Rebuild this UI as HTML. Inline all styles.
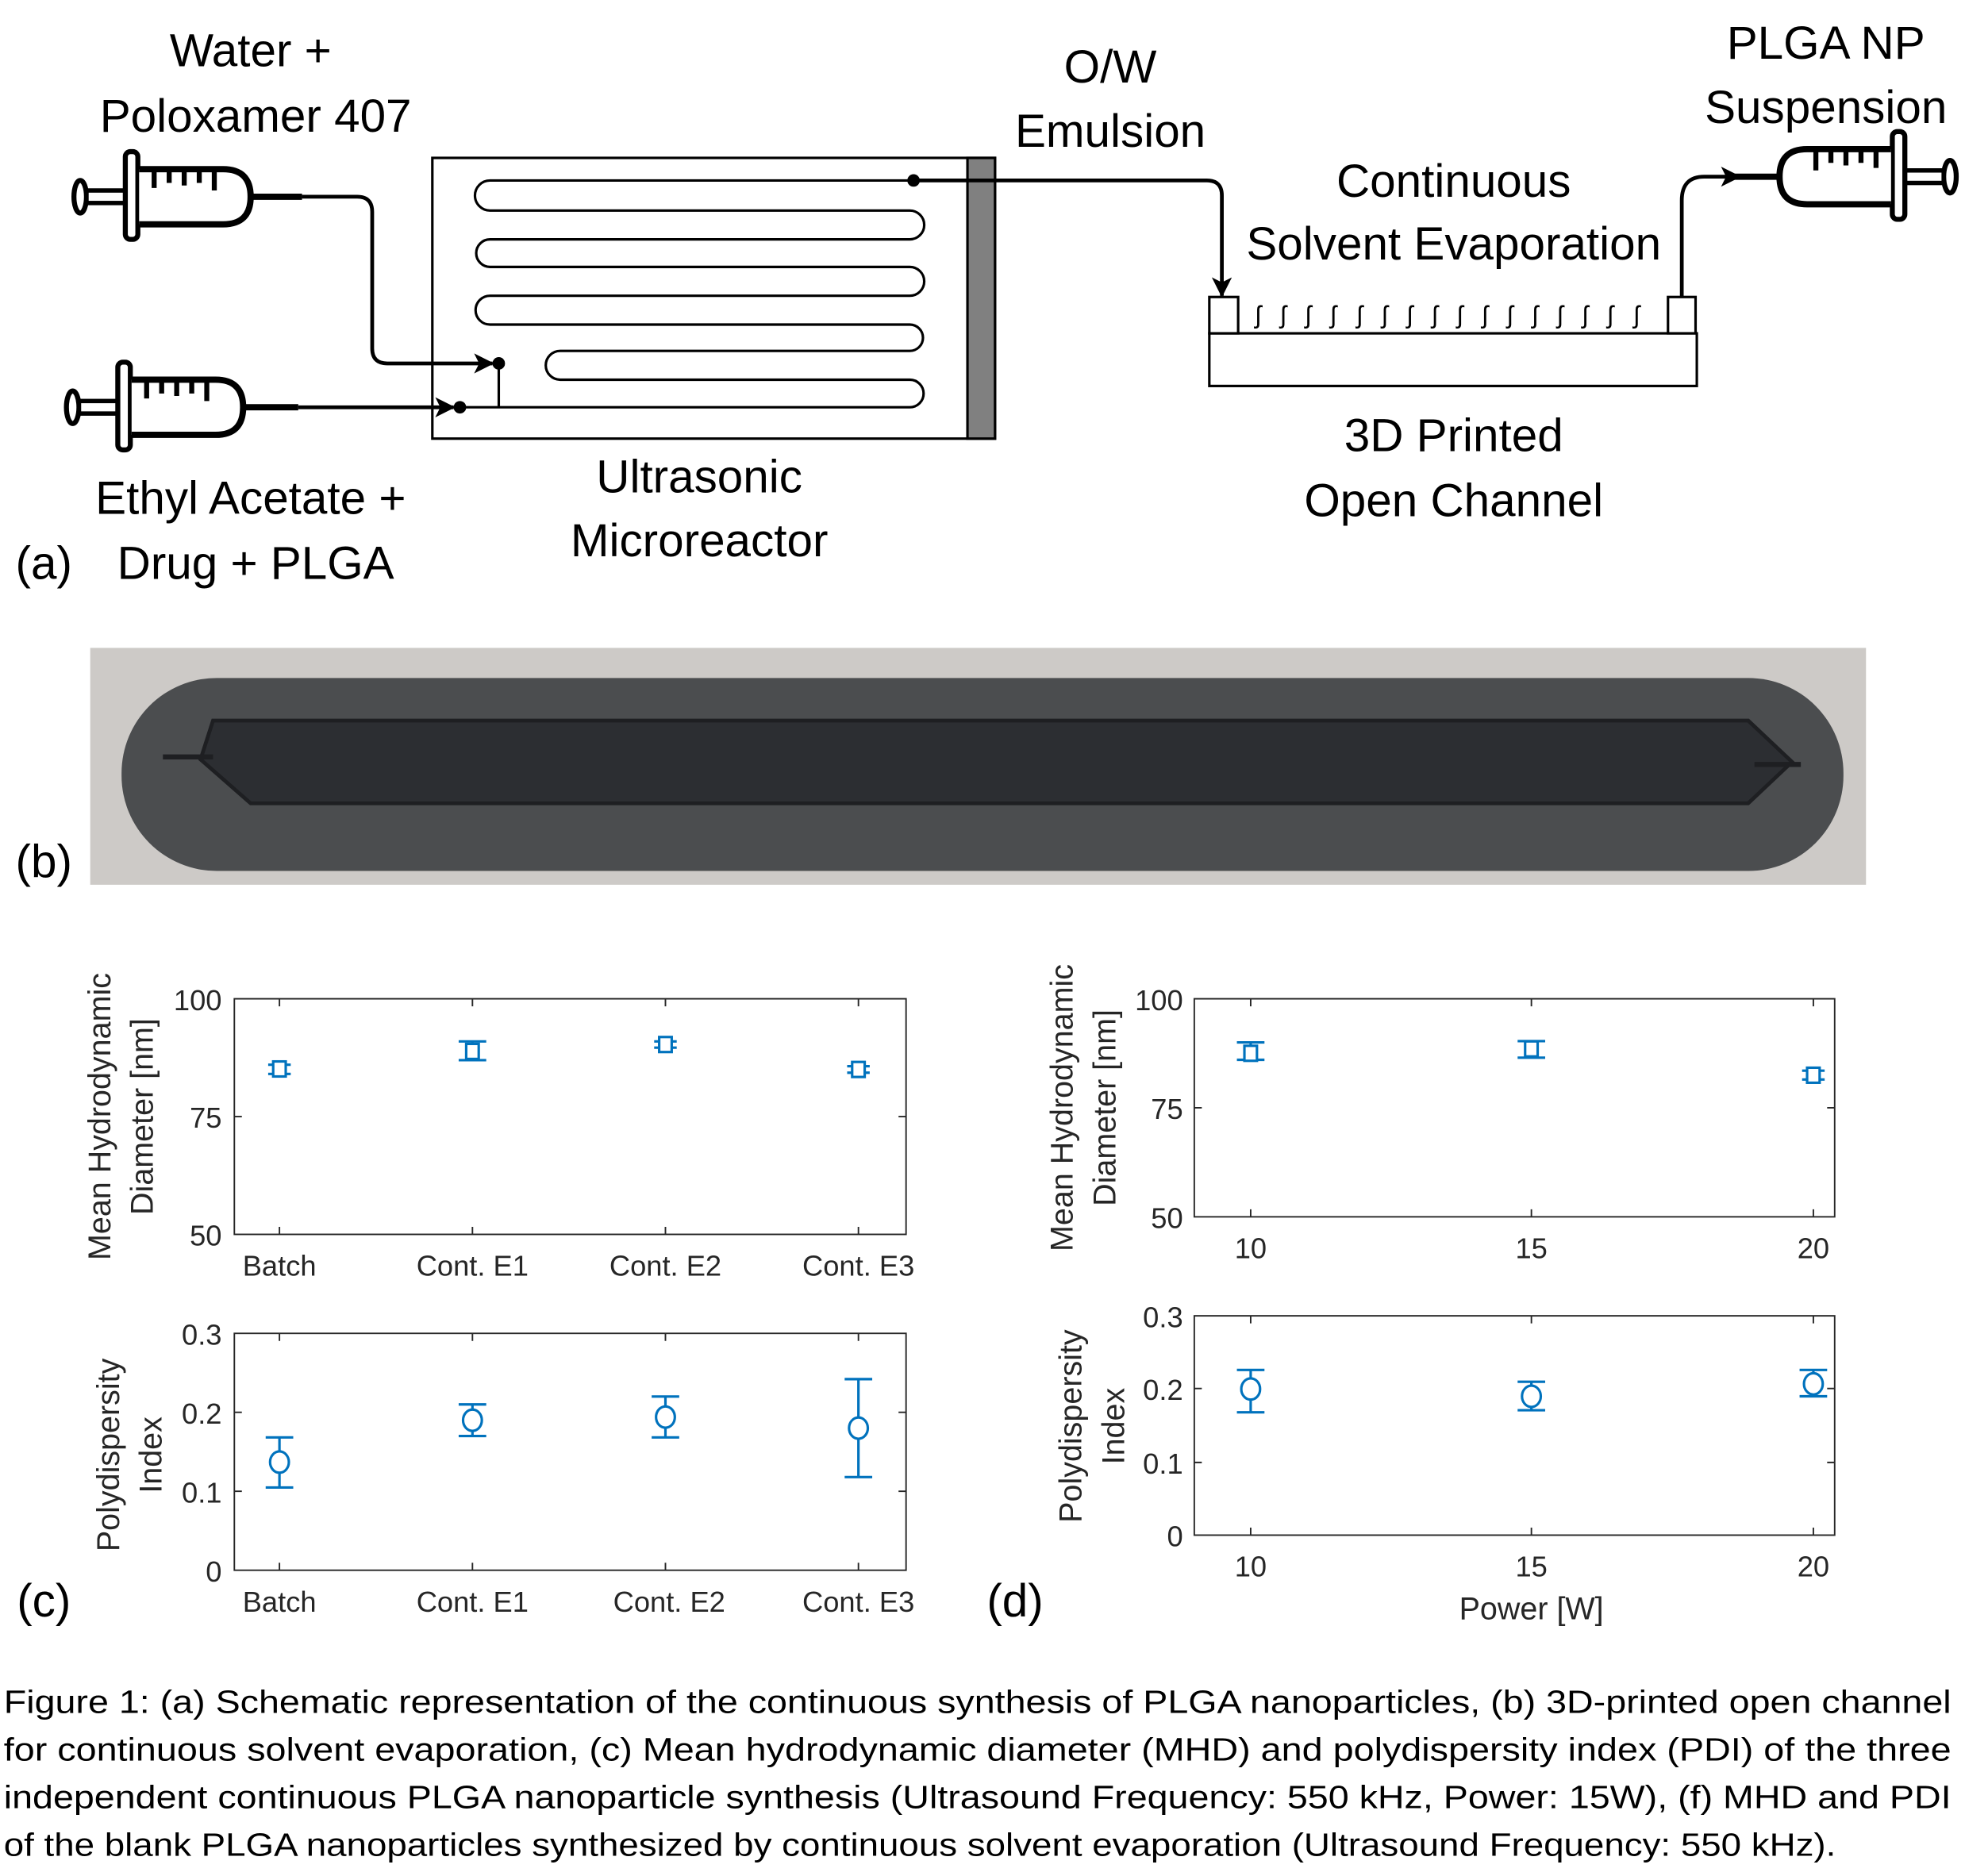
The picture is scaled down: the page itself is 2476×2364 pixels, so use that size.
<!DOCTYPE html>
<html><head><meta charset="utf-8"><style>
html,body{margin:0;padding:0;background:#fff}
svg{display:block}
.s{font-family:"Liberation Sans",sans-serif}
</style></head><body>
<svg width="2476" height="2364" viewBox="0 0 1568 1497" preserveAspectRatio="none" xmlns="http://www.w3.org/2000/svg">
<defs>
<marker id="ah" viewBox="0 0 12 12" refX="11" refY="6" markerWidth="16" markerHeight="16" markerUnits="userSpaceOnUse" orient="auto"><path d="M0,0 L12,6 L0,12 L3,6 Z" fill="#000"/></marker>
<g id="syr">
<ellipse cx="64" cy="0" rx="5" ry="13" fill="#fff" stroke="#000" stroke-width="4"/>
<rect x="69" y="-5" width="31" height="10" fill="#fff" stroke="#000" stroke-width="3.5"/>
<rect x="100" y="-36" width="10" height="70" rx="4" fill="#fff" stroke="#000" stroke-width="4"/>
<path d="M111,-22 H178 Q200,-22 200,0 Q200,22 178,22 H111" fill="#fff" stroke="#000" stroke-width="5"/>
<path d="M123,-20 V-7 M135,-20 V-11 M147,-20 V-9 M159,-20 V-11 M171,-20 V-5" stroke="#000" stroke-width="4"/>
</g>
</defs>
<g font-family="Liberation Sans, sans-serif" font-size="37" fill="#000" text-anchor="middle">
<text x="200" y="53">Water +</text>
<text x="204" y="105">Poloxamer 407</text>
<text x="200" y="410">Ethyl Acetate +</text>
<text x="204" y="462">Drug + PLGA</text>
<text x="35" y="462">(a)</text>
<text x="558" y="393">Ultrasonic</text>
<text x="558" y="444">Microreactor</text>
<text x="886" y="66">O/W</text>
<text x="886" y="117">Emulsion</text>
<text x="1160" y="157">Continuous</text>
<text x="1160" y="207">Solvent Evaporation</text>
<text x="1160" y="360">3D Printed</text>
<text x="1160" y="412">Open Channel</text>
<text x="1457" y="47">PLGA NP</text>
<text x="1457" y="98">Suspension</text>
<text x="35" y="700">(b)</text>
<text x="35" y="1290">(c)</text>
<text x="810" y="1290">(d)</text>
</g>
<rect x="345" y="126" width="449" height="224" fill="#fff" stroke="#000" stroke-width="2"/>
<rect x="772" y="126" width="22" height="224" fill="#808080" stroke="#000" stroke-width="2"/>
<path d="M729,144 H391 A12,12 0 0 0 391,168 H726 A11.5,11.5 0 0 1 726,191 H391 A11,11 0 0 0 391,213 H726 A11.5,11.5 0 0 1 726,236 H391 A11.5,11.5 0 0 0 391,259 H726 A10.5,10.5 0 0 1 726,280 H447 A11.5,11.5 0 0 0 447,303 H726 A11,11 0 0 1 726,325 H367" fill="none" stroke="#000" stroke-width="2"/>
<line x1="398" y1="290" x2="398" y2="325" stroke="#000" stroke-width="2"/>
<use href="#syr" transform="translate(0,157)"/>
<use href="#syr" transform="translate(-6,325)"/>
<use href="#syr" transform="translate(1620,141) scale(-1,1)"/>
<path d="M200,157 H241" stroke="#000" stroke-width="5"/>
<path d="M194,325 H238" stroke="#000" stroke-width="5"/>
<path d="M241,157 H285 Q297,157 297,169 V278 Q297,290 309,290 H393" fill="none" stroke="#000" stroke-width="3" marker-end="url(#ah)"/>
<path d="M238,325 H362" fill="none" stroke="#000" stroke-width="3" marker-end="url(#ah)"/>
<circle cx="398" cy="290" r="5"/>
<circle cx="367" cy="325" r="5"/>
<circle cx="729" cy="144" r="5"/>
<path d="M729,144 H963 Q975,144 975,156 V236" fill="none" stroke="#000" stroke-width="3" marker-end="url(#ah)"/>
<path d="M1342,237 V160 Q1342,141 1360,141 H1388" fill="none" stroke="#000" stroke-width="3" marker-end="url(#ah)"/>
<path d="M1380,141 H1420" stroke="#000" stroke-width="5"/>
<rect x="965" y="266" width="389" height="42" fill="#fff" stroke="#000" stroke-width="2"/>
<rect x="965" y="237" width="23" height="29" fill="#fff" stroke="#000" stroke-width="2"/>
<rect x="1331" y="237" width="22" height="29" fill="#fff" stroke="#000" stroke-width="2"/>
<g font-family="Liberation Sans, sans-serif" font-size="20" text-anchor="middle">
<text x="1004" y="258">ʃ</text><text x="1024" y="258">ʃ</text><text x="1044" y="258">ʃ</text><text x="1064" y="258">ʃ</text><text x="1085" y="258">ʃ</text><text x="1105" y="258">ʃ</text><text x="1125" y="258">ʃ</text><text x="1145" y="258">ʃ</text><text x="1165" y="258">ʃ</text><text x="1185" y="258">ʃ</text><text x="1205" y="258">ʃ</text><text x="1225" y="258">ʃ</text><text x="1245" y="258">ʃ</text><text x="1265" y="258">ʃ</text><text x="1285" y="258">ʃ</text><text x="1306" y="258">ʃ</text>
</g>
<rect x="72" y="517" width="1417" height="189" fill="#cdcac7"/>
<rect x="97" y="541" width="1374" height="154" rx="76" fill="#4b4d4f"/>
<path d="M170,575 H1395 L1430,608 L1395,641 H200 L160,606 Z" fill="#2c2e32" stroke="#1e1f22" stroke-width="3"/>
<path d="M130,604 H170 M1400,610 H1437" stroke="#1e1f22" stroke-width="4"/>
<g class="s" font-size="23" fill="#262626" stroke="none">
<rect x="187" y="797" width="536" height="188" fill="none" stroke="#262626" stroke-width="1.2"/>
<path d="M223,985v-6M377,985v-6M531,985v-6M685,985v-6M223,797v6M377,797v6M531,797v6M685,797v6M187,891h6M723,891h-6" stroke="#262626" stroke-width="1.2"/>
<text x="177" y="806" text-anchor="end">100</text><text x="177" y="900" text-anchor="end">75</text><text x="177" y="994" text-anchor="end">50</text>
<g text-anchor="middle"><text x="223" y="1018">Batch</text><text x="377" y="1018">Cont. E1</text><text x="531" y="1018">Cont. E2</text><text x="685" y="1018">Cont. E3</text></g>
<g font-size="25">
<text transform="translate(88,891) rotate(-90)" text-anchor="middle">Mean Hydrodynamic</text>
<text transform="translate(122,891) rotate(-90)" text-anchor="middle">Diameter [nm]</text>
</g>
<rect x="953" y="797" width="511" height="174" fill="none" stroke="#262626" stroke-width="1.2"/>
<path d="M998,971v-6M1222,971v-6M1447,971v-6M998,797v6M1222,797v6M1447,797v6M953,884h6M1464,884h-6" stroke="#262626" stroke-width="1.2"/>
<text x="944" y="806" text-anchor="end">100</text><text x="944" y="893" text-anchor="end">75</text><text x="944" y="980" text-anchor="end">50</text>
<g text-anchor="middle"><text x="998" y="1004">10</text><text x="1222" y="1004">15</text><text x="1447" y="1004">20</text></g>
<g font-size="25">
<text transform="translate(856,884) rotate(-90)" text-anchor="middle">Mean Hydrodynamic</text>
<text transform="translate(890,884) rotate(-90)" text-anchor="middle">Diameter [nm]</text>
</g>
<rect x="187" y="1064" width="536" height="189" fill="none" stroke="#262626" stroke-width="1.2"/>
<path d="M223,1253v-6M377,1253v-6M531,1253v-6M685,1253v-6M223,1064v6M377,1064v6M531,1064v6M685,1064v6M187,1127h6M723,1127h-6M187,1190h6M723,1190h-6" stroke="#262626" stroke-width="1.2"/>
<text x="177" y="1073" text-anchor="end">0.3</text><text x="177" y="1136" text-anchor="end">0.2</text><text x="177" y="1199" text-anchor="end">0.1</text><text x="177" y="1262" text-anchor="end">0</text>
<g text-anchor="middle"><text x="223" y="1286">Batch</text><text x="377" y="1286">Cont. E1</text><text x="534" y="1286">Cont. E2</text><text x="685" y="1286">Cont. E3</text></g>
<g font-size="25">
<text transform="translate(95,1161) rotate(-90)" text-anchor="middle">Polydispersity</text>
<text transform="translate(129,1161) rotate(-90)" text-anchor="middle">Index</text>
</g>
<rect x="953" y="1050" width="511" height="175" fill="none" stroke="#262626" stroke-width="1.2"/>
<path d="M998,1225v-6M1222,1225v-6M1447,1225v-6M998,1050v6M1222,1050v6M1447,1050v6M953,1108h6M1464,1108h-6M953,1167h6M1464,1167h-6" stroke="#262626" stroke-width="1.2"/>
<text x="944" y="1059" text-anchor="end">0.3</text><text x="944" y="1117" text-anchor="end">0.2</text><text x="944" y="1176" text-anchor="end">0.1</text><text x="944" y="1234" text-anchor="end">0</text>
<g text-anchor="middle"><text x="998" y="1258">10</text><text x="1222" y="1258">15</text><text x="1447" y="1258">20</text><text x="1222" y="1292" font-size="25">Power [W]</text></g>
<g font-size="25">
<text transform="translate(863,1138) rotate(-90)" text-anchor="middle">Polydispersity</text>
<text transform="translate(897,1138) rotate(-90)" text-anchor="middle">Index</text>
</g>
</g>
<g fill="none" stroke="#0072BD" stroke-width="2">
<path d="M223,849.6V857M214,849.6h18M214,857h18"/><rect x="218" y="847" width="10" height="12" fill="#fff"/>
<path d="M377,831V846M366,831h22M366,846h22"/><rect x="372" y="833" width="10" height="12" fill="#fff"/>
<path d="M531,831V836M522,831h18M522,836h18"/><rect x="526" y="827.5" width="10" height="12" fill="#fff"/>
<path d="M685,850.8V856M676,850.8h18M676,856h18"/><rect x="680" y="847.4" width="10" height="12" fill="#fff"/>
<path d="M223,1147V1187M212,1147h22M212,1187h22"/><ellipse cx="223" cy="1166.7" rx="7.5" ry="8.5" fill="#fff"/>
<path d="M377,1120.7V1145.9M366,1120.7h22M366,1145.9h22"/><ellipse cx="377" cy="1133.3" rx="7.5" ry="8.5" fill="#fff"/>
<path d="M531,1114.4V1147M520,1114.4h22M520,1147h22"/><ellipse cx="531" cy="1130.8" rx="7.5" ry="8.5" fill="#fff"/>
<path d="M685,1100.5V1178.7M674,1100.5h22M674,1178.7h22"/><ellipse cx="685" cy="1139.6" rx="7.5" ry="8.5" fill="#fff"/>
<path d="M998,831.8V845.7M987,831.8h22M987,845.7h22"/><rect x="993" y="834.5" width="10" height="12" fill="#fff"/>
<path d="M1222,830.8V844M1211,830.8h22M1211,844h22"/><rect x="1217" y="831" width="10" height="12" fill="#fff"/>
<path d="M1447,854.4V861.4M1438,854.4h18M1438,861.4h18"/><rect x="1442" y="852" width="10" height="12" fill="#fff"/>
<path d="M998,1093.2V1127M987,1093.2h22M987,1127h22"/><ellipse cx="998" cy="1108.4" rx="7.5" ry="8.5" fill="#fff"/>
<path d="M1222,1102.6V1125.3M1211,1102.6h22M1211,1125.3h22"/><ellipse cx="1222" cy="1114.2" rx="7.5" ry="8.5" fill="#fff"/>
<path d="M1447,1093.2V1114.2M1436,1093.2h22M1436,1114.2h22"/><ellipse cx="1447" cy="1104.3" rx="7.5" ry="8.5" fill="#fff"/>
</g>
<g font-family="Liberation Sans, sans-serif" font-size="26" fill="#000">
<text x="3" y="1367" textLength="1554" lengthAdjust="spacingAndGlyphs">Figure 1: (a) Schematic representation of the continuous synthesis of PLGA nanoparticles, (b) 3D-printed open channel</text>
<text x="3" y="1405" textLength="1554" lengthAdjust="spacingAndGlyphs">for continuous solvent evaporation, (c) Mean hydrodynamic diameter (MHD) and polydispersity index (PDI) of the three</text>
<text x="3" y="1443" textLength="1554" lengthAdjust="spacingAndGlyphs">independent continuous PLGA nanoparticle synthesis (Ultrasound Frequency: 550 kHz, Power: 15W), (f) MHD and PDI</text>
<text x="3" y="1481" textLength="1462" lengthAdjust="spacingAndGlyphs">of the blank PLGA nanoparticles synthesized by continuous solvent evaporation (Ultrasound Frequency: 550 kHz).</text>
</g>
</svg>
</body></html>
